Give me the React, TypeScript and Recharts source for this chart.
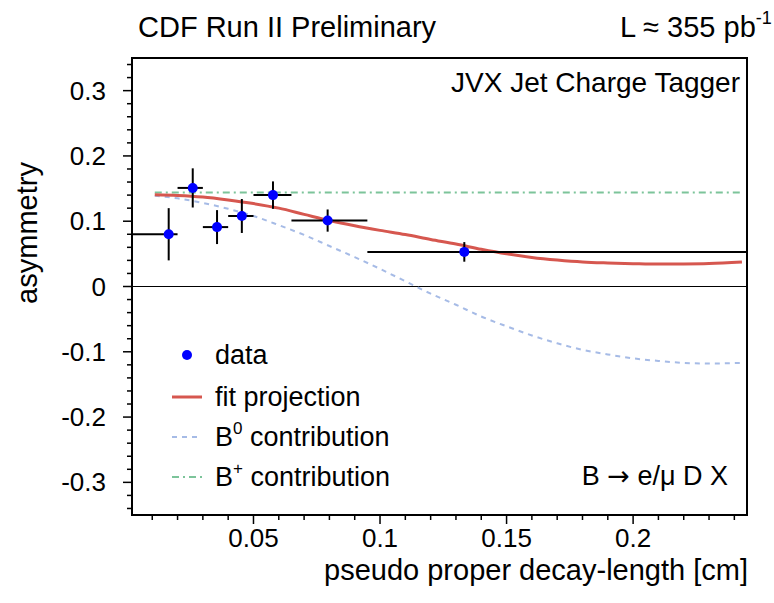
import { ComposedChart, Line, Scatter, ErrorBar, XAxis, YAxis, ReferenceLine, ReferenceArea } from "recharts"

const FONT = "'Liberation Sans', Arial, Helvetica, sans-serif"

// axis ticks (minor every 0.01 / 0.02, labels on the majors only)
const X_TICKS = [
  0.01, 0.02, 0.03, 0.04, 0.05, 0.06, 0.07, 0.08, 0.09, 0.1, 0.11, 0.12,
  0.13, 0.14, 0.15, 0.16, 0.17, 0.18, 0.19, 0.2, 0.21, 0.22, 0.23, 0.24,
]
const X_MAJOR = [0.05, 0.1, 0.15, 0.2]
const X_LABELS = ["0.05", "0.1", "0.15", "0.2"]

const Y_TICKS = [
  -0.34, -0.32, -0.3, -0.28, -0.26, -0.24, -0.22, -0.2, -0.18, -0.16, -0.14, -0.12,
  -0.1, -0.08, -0.06, -0.04, -0.02, 0, 0.02, 0.04, 0.06, 0.08, 0.1, 0.12,
  0.14, 0.16, 0.18, 0.2, 0.22, 0.24, 0.26, 0.28, 0.3, 0.32, 0.34,
]
const Y_MAJOR = [-0.3, -0.2, -0.1, 0, 0.1, 0.2, 0.3]
const Y_LABELS = ["-0.3", "-0.2", "-0.1", "0", "0.1", "0.2", "0.3"]

// measured points
const pointX = [0.0165, 0.026, 0.0356, 0.0454, 0.0577, 0.0793, 0.1333]
const pointY = [0.08, 0.151, 0.091, 0.108, 0.14, 0.101, 0.053]
const pointYErr = [0.04, 0.03, 0.026, 0.026, 0.021, 0.017, 0.015]
const binLow = [0.002, 0.02, 0.03, 0.04, 0.05, 0.065, 0.095]
const binHigh = [0.02, 0.03, 0.04, 0.05, 0.065, 0.095, 0.245]

// fit curves
const curveX = [
  0.011, 0.02, 0.03, 0.04, 0.05, 0.06, 0.07, 0.08, 0.09, 0.1, 0.11, 0.12, 0.13,
  0.14, 0.15, 0.16, 0.17, 0.18, 0.19, 0.2, 0.21, 0.22, 0.23, 0.243,
]
const fitY = [
  0.1405, 0.1395, 0.137, 0.1325, 0.127, 0.12, 0.1105, 0.101, 0.093, 0.086, 0.0795, 0.072, 0.065,
  0.057, 0.05, 0.0445, 0.0405, 0.0375, 0.036, 0.035, 0.0343, 0.0345, 0.0352, 0.0375,
]
const b0Y = [
  0.139, 0.135, 0.128, 0.119, 0.108, 0.094, 0.079, 0.062, 0.045, 0.027, 0.008, -0.011, -0.028,
  -0.046, -0.061, -0.075, -0.087, -0.097, -0.104, -0.11, -0.114, -0.117, -0.118, -0.117,
]
const bPlusX = [0.011, 0.243]
const bPlusY = [0.144, 0.144]

const points = pointX.map((x, i) => ({
  x,
  y: pointY[i],
  ey: pointYErr[i],
  ex: [x - binLow[i], binHigh[i] - x],
}))
const fitData = curveX.map((x, i) => ({ x, y: fitY[i] }))
const b0Data = curveX.map((x, i) => ({ x, y: b0Y[i] }))
const bPlusData = bPlusX.map((x, i) => ({ x, y: bPlusY[i] }))

const RED = "#d6574f"
const BLUE = "#a6bbe6"
const GREEN = "#7cc49a"

const majorIndex = (list: number[], v: number) => list.findIndex((m) => Math.abs(m - v) < 1e-9)

// eslint-disable-next-line @typescript-eslint/no-explicit-any
const XTick = ({ x, y, payload }: any) => {
  const i = majorIndex(X_MAJOR, payload.value)
  return (
    <g>
      <line x1={x} x2={x} y1={y} y2={y + (i >= 0 ? 9 : 5)} stroke="#000" strokeWidth={1.5} />
      {i >= 0 && (
        <text x={x} y={y + 32} textAnchor="middle" fontSize={26} fontFamily={FONT} fill="#000">
          {X_LABELS[i]}
        </text>
      )}
    </g>
  )
}

// eslint-disable-next-line @typescript-eslint/no-explicit-any
const YTick = ({ x, y, payload }: any) => {
  const i = majorIndex(Y_MAJOR, payload.value)
  return (
    <g>
      <line x1={x - (i >= 0 ? 9 : 5)} x2={x} y1={y} y2={y} stroke="#000" strokeWidth={1.5} />
      {i >= 0 && (
        <text x={x - 26} y={y + 9} textAnchor="end" fontSize={26} fontFamily={FONT} fill="#000">
          {Y_LABELS[i]}
        </text>
      )}
    </g>
  )
}

// eslint-disable-next-line @typescript-eslint/no-explicit-any
const Dot = ({ cx, cy }: any) => <circle cx={cx} cy={cy} r={5} fill="#0000ff" />

export default function App() {
  return (
    <div style={{ position: "absolute", left: 0, top: 0, width: 774, height: 603, background: "#fff" }}>
      <ComposedChart width={774} height={603} margin={{ top: 58, right: 27, bottom: 0, left: 0 }}>
        <XAxis
          type="number"
          dataKey="x"
          domain={[0.002, 0.245]}
          allowDataOverflow
          ticks={X_TICKS}
          interval={0}
          height={88}
          tickSize={0}
          tickMargin={0}
          tickLine={false}
          axisLine={{ stroke: "#000", strokeWidth: 2 }}
          tick={<XTick />}
        />
        <YAxis
          type="number"
          domain={[-0.35, 0.35]}
          allowDataOverflow
          ticks={Y_TICKS}
          interval={0}
          width={132}
          tickSize={0}
          tickMargin={0}
          tickLine={false}
          axisLine={{ stroke: "#000", strokeWidth: 2 }}
          tick={<YTick />}
        />
        <ReferenceArea x1={0.002} x2={0.245} y1={-0.35} y2={0.35} fill="none" stroke="#000" strokeWidth={2} strokeOpacity={1} fillOpacity={0} />
        <ReferenceLine y={0} stroke="#000" strokeWidth={1} />
        <Line data={bPlusData} dataKey="y" type="linear" stroke={GREEN} strokeWidth={2} strokeDasharray="7 4 2 4" dot={false} isAnimationActive={false} />
        <Line data={b0Data} dataKey="y" type="monotone" stroke={BLUE} strokeWidth={2} strokeDasharray="5 5" dot={false} isAnimationActive={false} />
        <Line data={fitData} dataKey="y" type="monotone" stroke={RED} strokeWidth={3} dot={false} isAnimationActive={false} />
        <Scatter data={points} dataKey="y" shape={<Dot />} isAnimationActive={false}>
          <ErrorBar dataKey="ex" direction="x" width={0} stroke="#000" strokeWidth={2} />
          <ErrorBar dataKey="ey" direction="y" width={0} stroke="#000" strokeWidth={2} />
        </Scatter>
      </ComposedChart>

      <svg width={774} height={603} style={{ position: "absolute", left: 0, top: 0, pointerEvents: "none" }} fontFamily={FONT}>
        <text x={138} y={37} fontSize={29} fill="#000">CDF Run II Preliminary</text>
        <text x={620} y={37} fontSize={29} fill="#000">
          L ≈ 355 pb<tspan fontSize={18} dy={-13}>-1</tspan>
        </text>
        <text x={740} y={92} fontSize={28} textAnchor="end" fill="#000">JVX Jet Charge Tagger</text>
        <text x={728} y={485} fontSize={27} textAnchor="end" fill="#000">
          B <tspan fontFamily="'DejaVu Sans', sans-serif">→</tspan> e/μ D X
        </text>
        <text x={748} y={580} fontSize={29} textAnchor="end" fill="#000">pseudo proper decay-length [cm]</text>
        <text transform="translate(37,233) rotate(-90)" fontSize={29} textAnchor="middle" fill="#000">asymmetry</text>

        <circle cx={187} cy={355} r={5} fill="#0000ff" />
        <text x={215} y={364} fontSize={27} fill="#000">data</text>
        <line x1={172} x2={202} y1={397} y2={397} stroke={RED} strokeWidth={3} />
        <text x={215} y={406} fontSize={27} fill="#000">fit projection</text>
        <line x1={172} x2={202} y1={437} y2={437} stroke={BLUE} strokeWidth={2} strokeDasharray="5 5" />
        <text x={215} y={446} fontSize={27} fill="#000">
          B<tspan fontSize={17} dy={-12}>0</tspan><tspan dy={12}> contribution</tspan>
        </text>
        <line x1={172} x2={202} y1={477} y2={477} stroke={GREEN} strokeWidth={2} strokeDasharray="7 4 2 4" />
        <text x={215} y={486} fontSize={27} fill="#000">
          B<tspan fontSize={17} dy={-12}>+</tspan><tspan dy={12}> contribution</tspan>
        </text>
      </svg>
    </div>
  )
}
